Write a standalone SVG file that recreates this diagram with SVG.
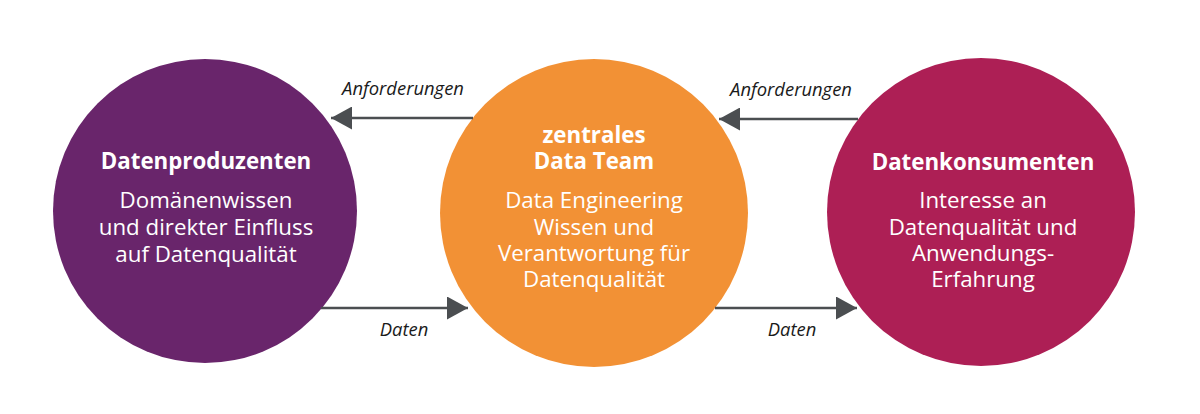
<svg xmlns="http://www.w3.org/2000/svg" width="1200" height="414" viewBox="0 0 1200 414">
<defs>
<marker id="ah" viewBox="0 0 21 23" refX="21" refY="11.5" markerWidth="21" markerHeight="23" markerUnits="userSpaceOnUse" orient="auto">
<path d="M0,0 L21,11.5 L0,23 Z" fill="#4b4e51"/>
</marker>
<style>
.t{font-family:"Open Sans","Liberation Sans",sans-serif;fill:#fff;text-anchor:middle}
.h{font-size:22.3px;font-weight:700}
.b{font-size:22.3px;font-weight:400}
.lbl{font-family:"Open Sans","Liberation Sans",sans-serif;font-style:italic;font-size:18.4px;fill:#1a1a1a;text-anchor:middle}
.c{stroke:#4b4e51;stroke-width:2.5;fill:none;marker-end:url(#ah)}
</style>
</defs>
<rect width="1200" height="414" fill="#fff"/>
<g id="produzenten">
<circle cx="205" cy="211" r="152" fill="#69256b"/>
<text class="t h" x="206" y="169">Datenproduzenten</text>
<text class="t b" x="206" y="208">Domänenwissen</text>
<text class="t b" x="206" y="235">und direkter Einfluss</text>
<text class="t b" x="206" y="262">auf Datenqualität</text>
</g>
<g id="datateam">
<circle cx="594" cy="213" r="154" fill="#f29135"/>
<text class="t h" x="594" y="143">zentrales</text>
<text class="t h" x="594" y="169">Data Team</text>
<text class="t b" x="594" y="208">Data Engineering</text>
<text class="t b" x="594" y="235">Wissen und</text>
<text class="t b" x="594" y="261">Verantwortung für</text>
<text class="t b" x="594" y="287">Datenqualität</text>
</g>
<g id="konsumenten">
<circle cx="981" cy="212" r="154" fill="#ad1f55"/>
<text class="t h" x="983" y="170">Datenkonsumenten</text>
<text class="t b" x="983" y="208">Interesse an</text>
<text class="t b" x="983" y="235">Datenqualität und</text>
<text class="t b" x="983" y="261">Anwendungs-</text>
<text class="t b" x="983" y="287">Erfahrung</text>
</g>
<g id="connectors">
<line class="c" x1="473" y1="118" x2="331" y2="118"/>
<line class="c" x1="321" y1="308" x2="468" y2="308"/>
<line class="c" x1="858" y1="119" x2="719" y2="119"/>
<line class="c" x1="715" y1="308" x2="857" y2="308"/>
<text class="lbl" x="403" y="95">Anforderungen</text>
<text class="lbl" x="404" y="336">Daten</text>
<text class="lbl" x="791" y="96">Anforderungen</text>
<text class="lbl" x="792" y="336">Daten</text>
</g>
</svg>
